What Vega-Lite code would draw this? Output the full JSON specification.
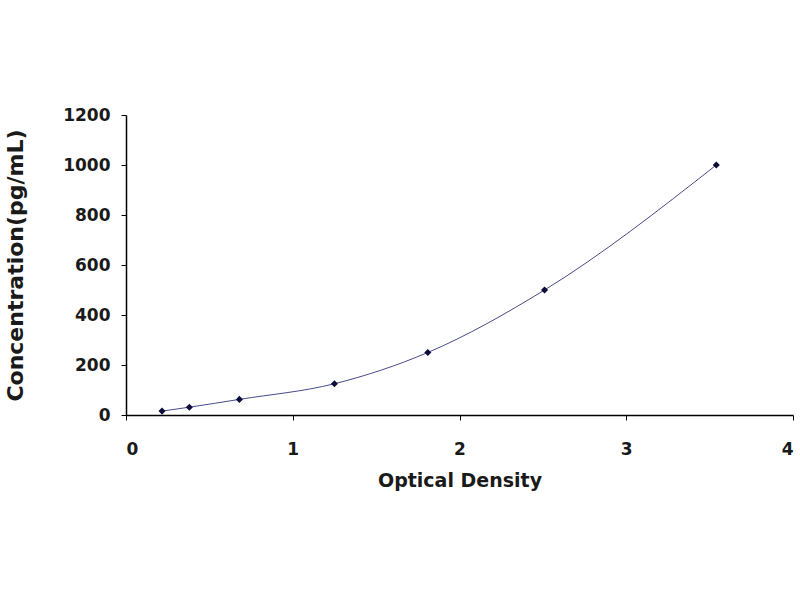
{
  "$schema": "https://vega.github.io/schema/vega-lite/v6.json",
  "width": 667,
  "height": 300,
  "autosize": {"type": "none"},
  "padding": {"left": 126, "top": 115, "right": 7, "bottom": 185},
  "background": "white",
  "config": {
    "view": {"stroke": null},
    "font": "DejaVu Sans",
    "axis": {
      "grid": false,
      "domainColor": "#000000",
      "domainWidth": 1.5,
      "tickColor": "#000000",
      "tickSize": 5,
      "labelFont": "DejaVu Sans",
      "labelFontWeight": "bold",
      "labelFontSize": 17,
      "labelColor": "#1a1a1a",
      "titleFont": "DejaVu Sans",
      "titleFontWeight": "bold",
      "titleFontSize": 19,
      "titleColor": "#1a1a1a"
    }
  },
  "data": {
    "values": [
      {"od": 0.216, "conc": 15.6},
      {"od": 0.38, "conc": 31.2},
      {"od": 0.68, "conc": 62.5},
      {"od": 1.25, "conc": 125},
      {"od": 1.81, "conc": 250},
      {"od": 2.51, "conc": 500},
      {"od": 3.54, "conc": 1000}
    ]
  },
  "encoding": {
    "x": {
      "field": "od",
      "type": "quantitative",
      "scale": {"domain": [0, 4], "nice": false},
      "axis": {"title": "Optical Density", "values": [0, 1, 2, 3, 4], "format": "d", "labelPadding": 21, "titlePadding": 14}
    },
    "y": {
      "field": "conc",
      "type": "quantitative",
      "scale": {"domain": [0, 1200], "nice": false},
      "axis": {"title": "Concentration(pg/mL)", "titleFontSize": 22, "values": [0, 200, 400, 600, 800, 1000, 1200], "format": "d", "labelPadding": 11, "titlePadding": 35}
    }
  },
  "layer": [
    {"mark": {"type": "line", "interpolate": "monotone", "color": "#4a4a8a", "strokeWidth": 1}},
    {"mark": {"type": "point", "shape": "diamond", "filled": true, "color": "#0d0d3a", "size": 50, "opacity": 1}}
  ]
}
